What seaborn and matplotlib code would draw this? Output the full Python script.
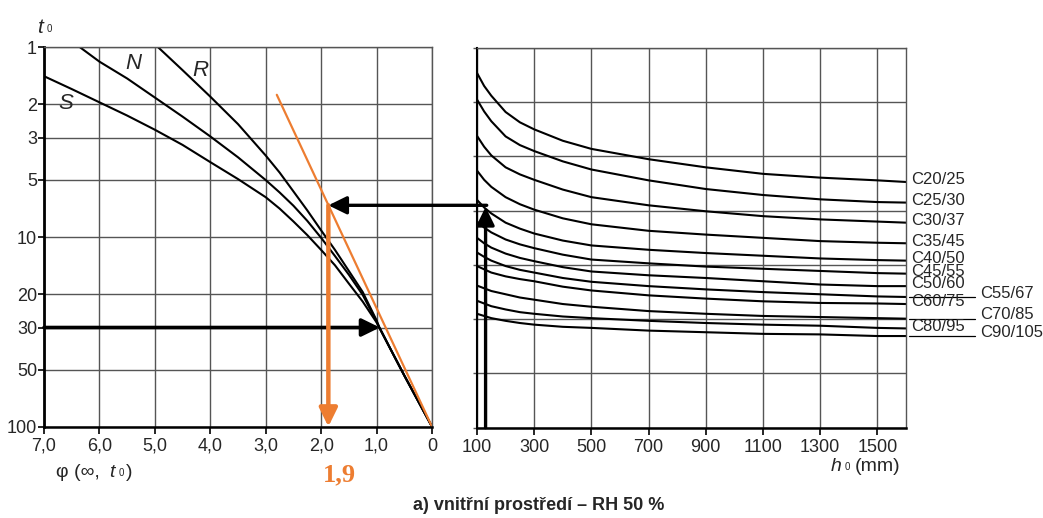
import numpy as np
import pandas as pd
import matplotlib.pyplot as plt
import seaborn as sns
from matplotlib.patches import ConnectionPatch

# left nomogram: creep coefficient phi(inf, t0) against age at loading t0
phi_S = [7.0, 6.5, 6.0, 5.5, 5.0, 4.5, 4.0, 3.5, 3.0, 2.75, 2.5, 2.25, 2.0,
         1.75, 1.5, 1.25, 1.0, 0.95, 0.75, 0.5, 0.25, 0.0]
t0_S = [1.42, 1.66, 1.95, 2.29, 2.72, 3.27, 4.03, 4.95, 6.17, 7.08, 8.28, 9.77,
        11.7, 14.1, 17.6, 21.9, 28.2, 30.0, 38.9, 53.7, 73.3, 100]
phi_N = [6.35, 6.0, 5.5, 5.0, 4.5, 4.0, 3.5, 3.0, 2.75, 2.5, 2.25, 2.0,
         1.75, 1.5, 1.25, 1.0, 0.95, 0.75, 0.5, 0.25, 0.0]
t0_N = [1.0, 1.19, 1.46, 1.84, 2.32, 2.95, 3.80, 5.01, 5.82, 6.84, 8.22, 10.1,
        12.6, 15.8, 20.2, 27.9, 30.0, 38.9, 53.7, 73.3, 100]
phi_R = [4.94, 4.5, 4.0, 3.5, 3.0, 2.75, 2.5, 2.25, 2.0, 1.75, 1.5, 1.25,
         1.0, 0.95, 0.75, 0.5, 0.25, 0.0]
t0_R = [1.0, 1.32, 1.82, 2.54, 3.72, 4.57, 5.75, 7.24, 9.23, 11.7, 15.1, 19.5,
        27.5, 30.0, 38.9, 53.7, 73.3, 100]
cement_names = ['S', 'N', 'R']
cement_label_pos = [(6.60, 1.97), (5.39, 1.22), (4.17, 1.32)]

phi_ticks = [0, 1, 2, 3, 4, 5, 6, 7]
phi_ticklabels = ['0', '1,0', '2,0', '3,0', '4,0', '5,0', '6,0', '7,0']
t0_ticks = [1, 2, 3, 5, 10, 20, 30, 50, 100]

# orange construction line through origin
phi_line = [0.0, 2.8]
t0_line = [100, 1.78]

# right nomogram: notional size h0 (mm) vs concrete class
h0 = [100, 125, 150, 200, 250, 300, 400, 500, 700, 900, 1100, 1300, 1500, 1600]
c20_25 = [6.54, 6.30, 6.12, 5.82, 5.63, 5.50, 5.29, 5.14, 4.95, 4.80, 4.68, 4.61, 4.56, 4.53]
c25_30 = [6.05, 5.83, 5.65, 5.37, 5.21, 5.10, 4.91, 4.76, 4.56, 4.40, 4.29, 4.21, 4.16, 4.15]
c30_37 = [5.38, 5.18, 5.02, 4.80, 4.67, 4.57, 4.39, 4.25, 4.10, 3.99, 3.90, 3.84, 3.80, 3.78]
c35_45 = [4.74, 4.57, 4.44, 4.25, 4.12, 4.02, 3.86, 3.75, 3.63, 3.56, 3.50, 3.44, 3.41, 3.40]
c40_50 = [4.20, 4.06, 3.95, 3.78, 3.67, 3.58, 3.45, 3.36, 3.28, 3.22, 3.17, 3.12, 3.09, 3.08]
c45_55 = [3.80, 3.69, 3.60, 3.47, 3.38, 3.31, 3.19, 3.10, 3.03, 2.97, 2.93, 2.89, 2.85, 2.84]
c50_60 = [3.50, 3.40, 3.32, 3.21, 3.13, 3.07, 2.96, 2.88, 2.81, 2.76, 2.70, 2.64, 2.61, 2.61]
c55_67 = [3.23, 3.15, 3.08, 2.98, 2.91, 2.86, 2.76, 2.69, 2.61, 2.55, 2.50, 2.46, 2.42, 2.41]
c60_75 = [2.98, 2.92, 2.86, 2.79, 2.74, 2.70, 2.60, 2.53, 2.44, 2.38, 2.33, 2.30, 2.29, 2.28]
c70_85 = [2.62, 2.57, 2.52, 2.46, 2.40, 2.36, 2.28, 2.23, 2.15, 2.10, 2.06, 2.04, 2.02, 2.01]
c80_95 = [2.34, 2.29, 2.24, 2.18, 2.13, 2.10, 2.05, 2.02, 1.97, 1.93, 1.90, 1.88, 1.84, 1.83]
c90_105 = [2.10, 2.06, 2.02, 1.97, 1.93, 1.90, 1.86, 1.84, 1.79, 1.76, 1.73, 1.72, 1.69, 1.69]
classes = ['C20/25', 'C25/30', 'C30/37', 'C35/45', 'C40/50', 'C45/55',
           'C50/60', 'C55/67', 'C60/75', 'C70/85', 'C80/95', 'C90/105']
class_curves = [c20_25, c25_30, c30_37, c35_45, c40_50, c45_55,
                c50_60, c55_67, c60_75, c70_85, c80_95, c90_105]
leader_classes = ['C55/67', 'C70/85', 'C90/105']
h0_ticks = [100, 300, 500, 700, 900, 1100, 1300, 1500]

# worked example
t0_sel = 30
phi_cross = 0.94
h0_sel = 130
ord_sel = 4.10
phi_result = 1.87
result_label = '1,9'

orange = '#ED7D31'
gridc = '#555555'

sns.set_theme(style='white')
plt.rcParams['font.family'] = ['Liberation Sans', 'DejaVu Sans']

W, H = 1043, 518
fig = plt.figure(figsize=(W / 100, H / 100), dpi=100)
ax1 = fig.add_axes([44 / W, 1 - 426.7 / H, 388 / W, 379.4 / H])
ax2 = fig.add_axes([477 / W, 1 - 427.7 / H, 429 / W, 379.7 / H])

# ---- left panel
ax1.set_yscale('log')
left = pd.DataFrame({
    'phi': phi_S + phi_N + phi_R,
    't0': t0_S + t0_N + t0_R,
    'cement': ['S'] * len(phi_S) + ['N'] * len(phi_N) + ['R'] * len(phi_R),
})
sns.lineplot(data=left, x='phi', y='t0', units='cement', estimator=None,
             sort=False, color='black', lw=1.5, ax=ax1)
sns.lineplot(x=phi_line, y=t0_line, color=orange, lw=1.6, sort=False, ax=ax1)

ax1.set_xlim(7, 0)
ax1.set_ylim(100, 1)
ax1.set_xticks(phi_ticks)
ax1.set_xticklabels(phi_ticklabels)
ax1.set_yticks(t0_ticks)
ax1.set_yticklabels([str(t) for t in t0_ticks])
ax1.yaxis.set_minor_locator(plt.NullLocator())
ax1.set_xlabel('')
ax1.set_ylabel('')
ax1.grid(True, color=gridc, lw=1.0)
ax1.tick_params(axis='both', which='major', labelsize=13, direction='out',
                color='black', bottom=True, left=True)
ax1.tick_params(axis='x', length=5, width=1.2, pad=3)
ax1.tick_params(axis='y', length=4, width=1.2, pad=1)
for side in ['top', 'right']:
    ax1.spines[side].set_color(gridc)
    ax1.spines[side].set_linewidth(1.0)
ax1.spines['left'].set_color('black')
ax1.spines['left'].set_linewidth(2.0)
ax1.spines['bottom'].set_color('black')
ax1.spines['bottom'].set_linewidth(1.8)

for name, (px, py) in zip(cement_names, cement_label_pos):
    ax1.text(px, py, name, fontsize=16, style='italic', ha='center', va='center')

# ---- right panel
right = pd.DataFrame({
    'h0': h0 * len(classes),
    'ord': sum(class_curves, []),
    'cls': np.repeat(classes, len(h0)),
})
sns.lineplot(data=right, x='h0', y='ord', units='cls', estimator=None,
             sort=False, color='black', lw=1.5, ax=ax2)
ax2.set_xlim(100, 1600)
ax2.set_ylim(0, 7)
ax2.set_xticks(h0_ticks)
ax2.set_xticklabels([str(v) for v in h0_ticks])
ax2.set_yticks(range(8))
ax2.set_yticklabels([])
ax2.set_xlabel('')
ax2.set_ylabel('')
ax2.grid(True, color=gridc, lw=1.0)
ax2.tick_params(axis='both', labelsize=13, direction='out', color='black',
                bottom=True, left=True)
ax2.tick_params(axis='x', length=5, width=1.2, pad=3)
ax2.tick_params(axis='y', length=3, width=1.0, color=gridc)
for side in ['top', 'right']:
    ax2.spines[side].set_color(gridc)
    ax2.spines[side].set_linewidth(1.0)
ax2.spines['left'].set_color('black')
ax2.spines['left'].set_linewidth(1.5)
ax2.spines['bottom'].set_color('black')
ax2.spines['bottom'].set_linewidth(1.8)

for name, vals in zip(classes, class_curves):
    end = vals[-1]
    if name in leader_classes:
        ax2.plot([1612, 1840], [end, end], color='black', lw=0.9, clip_on=False)
        ax2.text(1858, end + 0.07, name, fontsize=12, ha='left', va='center')
    else:
        ax2.text(1618, end + 0.04, name, fontsize=12, ha='left', va='center')

# ---- worked example arrows
head = '-|>,head_length=0.55,head_width=0.27'
ax2.annotate('', xy=(h0_sel, ord_sel - 0.03), xytext=(h0_sel, 0),
             arrowprops=dict(arrowstyle=head, mutation_scale=20, lw=2.4,
                             color='black', shrinkA=0, shrinkB=0))
# t0 level on the left panel at the same height as the class ordinate
ypix = ax2.transData.transform((h0_sel, ord_sel))[1]
t0_match = ax1.transData.inverted().transform((0, ypix))[1]
con = ConnectionPatch(xyA=(h0_sel + 4, ord_sel), coordsA=ax2.transData,
                      xyB=(phi_result, t0_match), coordsB=ax1.transData,
                      arrowstyle=head, mutation_scale=20, lw=2.4,
                      color='black', shrinkA=0, shrinkB=0)
fig.add_artist(con)
ax1.annotate('', xy=(phi_cross, t0_sel), xytext=(7.0, t0_sel),
             arrowprops=dict(arrowstyle=head, mutation_scale=20, lw=2.6,
                             color='black', shrinkA=0, shrinkB=0))
ax1.annotate('', xy=(phi_result, 100), xytext=(phi_result, t0_match),
             arrowprops=dict(arrowstyle=head, mutation_scale=20, lw=3.2,
                             color=orange, shrinkA=0, shrinkB=0))

# ---- axis titles and caption
fig.text(37 / W, 1 - 33 / H, 't', fontsize=15, style='italic', va='baseline')
fig.text(47 / W, 1 - 32 / H, '0', fontsize=7, va='baseline')
fig.text(56 / W, 1 - 477 / H, 'φ (∞,', fontsize=14, va='baseline')
fig.text(109 / W, 1 - 477 / H, 't', fontsize=14, style='italic', va='baseline')
fig.text(119 / W, 1 - 476 / H, '0', fontsize=7, va='baseline')
fig.text(126 / W, 1 - 477 / H, ')', fontsize=14, va='baseline')
fig.text(831 / W, 1 - 471 / H, 'h', fontsize=14, style='italic', va='baseline')
fig.text(845 / W, 1 - 470 / H, '0', fontsize=7, va='baseline')
fig.text(855 / W, 1 - 471 / H, '(mm)', fontsize=14, va='baseline')
fig.text(339 / W, 1 - 481 / H, result_label, fontsize=19, color=orange,
         fontweight='bold', family=['Liberation Serif', 'DejaVu Serif'],
         ha='center', va='baseline')
fig.text(539 / W, 1 - 506 / H, 'a) vnitřní prostředí – RH 50 %', fontsize=13,
         fontweight='bold', ha='center', va='center')

fig.savefig('out.png', dpi=100)
